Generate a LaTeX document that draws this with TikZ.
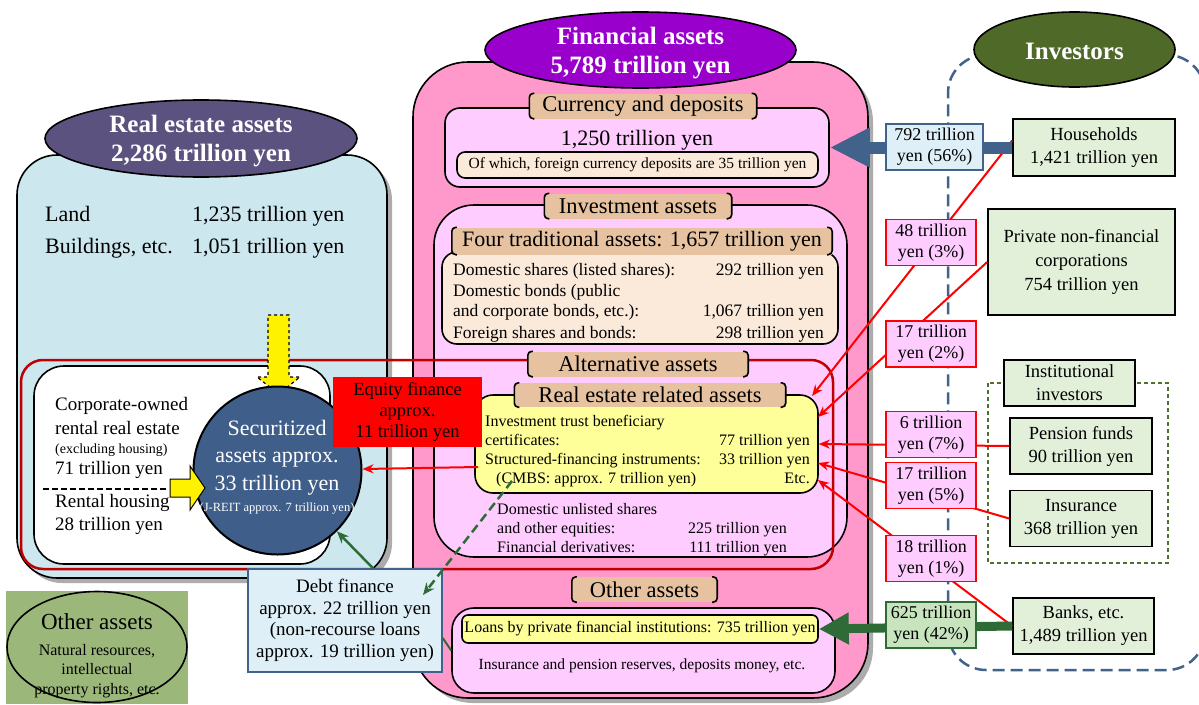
\documentclass[tikz,border=0pt]{standalone}
\usepackage{fontspec}
\setmainfont{Liberation Serif}
\usetikzlibrary{shapes.geometric,arrows.meta,shadows}

\definecolor{reblue}{RGB}{205,231,238}
\definecolor{retitle}{RGB}{92,82,128}
\definecolor{finpink}{RGB}{255,153,204}
\definecolor{fintitle}{RGB}{153,0,204}
\definecolor{panelpink}{RGB}{255,204,255}
\definecolor{tanlab}{RGB}{230,194,160}
\definecolor{beige}{RGB}{251,234,218}
\definecolor{softyellow}{RGB}{255,255,153}
\definecolor{darkred}{RGB}{192,0,0}
\definecolor{securblue}{RGB}{63,95,138}
\definecolor{steel}{RGB}{65,98,138}
\definecolor{invgreen}{RGB}{79,105,40}
\definecolor{palegreen}{RGB}{226,240,217}
\definecolor{flowgreen}{RGB}{46,107,54}
\definecolor{midgreen}{RGB}{200,228,190}
\definecolor{olive}{RGB}{155,183,122}
\definecolor{paleblue}{RGB}{222,239,247}
\definecolor{dashgreen}{RGB}{84,110,48}

\begin{document}
\begin{tikzpicture}[x=1pt,y=-1pt,
    box/.style={draw,line width=1.6pt,inner sep=0pt,align=center},
    panel/.style={box,fill=panelpink},
    seclab/.style={fill=tanlab,inner sep=0pt,minimum height=25pt,font=\fontsize{22.5}{26}\selectfont},
    headell/.style={ellipse,draw,line width=1.6pt,inner sep=0pt},
    headtx/.style={inner sep=0pt,text=white,align=center,font=\fontsize{25}{29}\selectfont\bfseries},
    invbox/.style={box,fill=palegreen,font=\fontsize{18.5}{23}\selectfont},
    flowbox/.style={box,draw=red,line width=1.8pt,fill=panelpink,minimum width=90pt,minimum height=46pt,font=\fontsize{18}{21}\selectfont},
    flow/.style={red,line width=2pt,-{Stealth[length=11pt,width=9pt]}},
    tx/.style={inner sep=0pt,yshift=-2pt,text height=0.7em,text depth=0.1em,font=\fontsize{16}{19}\selectfont},
    tradtx/.style={tx,font=\fontsize{17.5}{21}\selectfont},
    bigtx/.style={tx,font=\fontsize{22}{30}\selectfont},
    midtx/.style={tx,font=\fontsize{19}{22}\selectfont},
    boxshadow/.style={drop shadow={shadow xshift=5pt,shadow yshift=-5pt,fill=gray!65,opacity=1}}
]
\useasboundingbox[fill=white] (0,0) rectangle (1199,704);

% containers
\node[box,fill=reblue,rounded corners=40pt,minimum width=370pt,minimum height=423pt,boxshadow] (realbox) at (202,366.5) {};
\node[box,fill=finpink,rounded corners=55pt,minimum width=455pt,minimum height=636pt,boxshadow] (finbox) at (640.5,380) {};
\node[draw=steel,line width=2.5pt,dash pattern=on 12pt off 6pt,rounded corners=38pt,minimum width=257pt,minimum height=615pt,inner sep=0pt] (invframe) at (1076.5,362.5) {};

% currency and deposits
\node[panel,rounded corners=15pt,minimum width=384pt,minimum height=79pt] (curpanel) at (637,147.5) {};
\node[bigtx] (curval) at (637,140) {1,250 trillion yen};
\node[box,fill=beige,rounded corners=8pt,minimum width=361pt,minimum height=26pt,font=\fontsize{15.5}{18}\selectfont] (ofwhich) at (637.5,165) {Of which, foreign currency deposits are 35 trillion yen};

% investment assets
\node[panel,rounded corners=40pt,minimum width=413pt,minimum height=352pt] (invpanel) at (640.5,381) {};
\node[box,fill=beige,rounded corners=15pt,minimum width=396pt,minimum height=92pt] (tradbox) at (640,298) {};
\foreach \y/\l/\r [count=\i] in {270/{Domestic shares (listed shares):}/{292 trillion yen},
    291/{Domestic bonds (public}/{},
    311/{and corporate bonds, etc.):}/{1,067 trillion yen},
    333/{Foreign shares and bonds:}/{298 trillion yen}}{
  \node[tradtx,anchor=west] (tl\i) at (453,\y) {\l};
  \node[tradtx,anchor=east] (tr\i) at (824,\y) {\r};
}
\node[box,fill=softyellow,rounded corners=18pt,minimum width=343pt,minimum height=98pt] (reyel) at (646.5,444) {};
\node[tx,anchor=west] (ry1) at (485,421) {Investment trust beneficiary};
\node[tx,anchor=west] (ry2) at (485,440) {certificates:};
\node[tx,anchor=east] (ry2r) at (810,440) {77 trillion yen};
\node[tx,anchor=west] (ry3) at (485,459) {Structured-financing instruments:};
\node[tx,anchor=east] (ry3r) at (810,459) {33 trillion yen};
\node[tx,anchor=west] (ry4) at (496,478) {(CMBS: approx. 7 trillion yen)};
\node[tx,anchor=east] (ry4r) at (810,478) {Etc.};
\node[tx,anchor=west] (du1) at (497,509) {Domestic unlisted shares};
\node[tx,anchor=west] (du2) at (497,528) {and other equities:};
\node[tx,anchor=east] (du2r) at (787,528) {225 trillion yen};
\node[tx,anchor=west] (du3) at (497,547) {Financial derivatives:};
\node[tx,anchor=east] (du3r) at (787,547) {111 trillion yen};

% other assets
\node[panel,rounded corners=22pt,minimum width=383pt,minimum height=85pt] (othpanel) at (643.5,650.5) {};
\node[box,fill=softyellow,rounded corners=6pt,minimum width=356pt,minimum height=28pt,font=\fontsize{16}{19}\selectfont] (loans) at (640,629) {Loans by private financial institutions: 735 trillion yen};
\node[tx,font=\fontsize{15.5}{18}\selectfont] (othtx) at (642,664) {Insurance and pension reserves, deposits money, etc.};

% alternative assets frame
\draw[darkred,line width=2.5pt,rounded corners=22pt] (21,360) rectangle (833,569);

% real estate
\node[bigtx,anchor=west] (land) at (45,216) {Land};
\node[bigtx,anchor=west] (landv) at (192,216) {1,235 trillion yen};
\node[bigtx,anchor=west] (bld) at (45,248) {Buildings, etc.};
\node[bigtx,anchor=west] (bldv) at (192,248) {1,051 trillion yen};
\node[box,fill=white,rounded corners=30pt,minimum width=296pt,minimum height=198pt] (rentbox) at (182,465) {};
\draw[fill=yellow,line width=1.2pt,dashed] (268,315) -- (289,315) -- (289,377) -- (300,377) -- (278.5,394) -- (257,377) -- (268,377) -- cycle;
\node[circle,draw,line width=2pt,fill=securblue,minimum size=168pt,inner sep=0pt] (secur) at (277.5,470.5) {};
\node[inner sep=0pt,text=white,align=center,font=\fontsize{22}{27.5}\selectfont] (sectx) at (277,467) {Securitized\\assets approx.\\33 trillion yen\\[-6pt]{\fontsize{12.5}{15}\selectfont (J-REIT approx. 7 trillion yen)}};
\node[midtx,anchor=west] (rl1) at (55,405) {Corporate-owned};
\node[midtx,anchor=west] (rl2) at (55,429) {rental real estate};
\node[tx,anchor=west,font=\fontsize{14}{16}\selectfont] (rl3) at (55,448) {(excluding housing)};
\node[midtx,anchor=west] (rl4) at (55,469) {71 trillion yen};
\node[midtx,anchor=west] (rl5) at (55,502) {Rental housing};
\node[midtx,anchor=west] (rl6) at (55,525) {28 trillion yen};
\draw[line width=1.5pt,dash pattern=on 6pt off 3pt] (43,489) -- (167,489);
\draw[fill=yellow,line width=1pt] (170,479) -- (190,479) -- (190,466) -- (205,488) -- (190,510) -- (190,497) -- (170,497) -- cycle;

% equity and debt finance
\node[box,draw=none,fill=red,minimum width=149pt,minimum height=70pt,font=\fontsize{18.5}{21}\selectfont] (equity) at (407.5,411.5) {Equity finance\\approx.\\11 trillion yen};
\coordinate (eqsrc) at (478,467);
\draw[flow] (eqsrc) -- (secur);
\node[box,fill=paleblue,draw=steel,line width=1.5pt,minimum width=194pt,minimum height=103pt,font=\fontsize{19}{21.7}\selectfont] (debt) at (345,620.5) {Debt finance\\approx. 22 trillion yen\\(non-recourse loans\\approx. 19 trillion yen)};
\draw[flowgreen,line width=2.5pt,-{Stealth[length=12pt,width=10pt]}] ([xshift=28pt]debt.north) -- (secur);
\coordinate (cmbs) at (512,481);
\coordinate (cmbstip) at (423,595);
\draw[flowgreen,line width=2.5pt,dash pattern=on 9pt off 5pt,-{Stealth[length=12pt,width=10pt]}] (cmbs) -- (cmbstip);
\draw[flowgreen,line width=2pt] ([yshift=-17.5pt]debt.east) -- (othpanel.west);

% other non-financial assets
\node[fill=olive,minimum width=182pt,minimum height=113pt,inner sep=0pt] (othbg) at (97,647.5) {};
\node[ellipse,draw,line width=1.6pt,minimum width=180pt,minimum height=111pt,inner sep=0pt] (othell) at (97,647) {};
\node[inner sep=0pt,align=center,font=\fontsize{23}{26}\selectfont] (othtitle) at (97,622) {Other assets};
\node[inner sep=0pt,align=center,font=\fontsize{16}{19.5}\selectfont] (othdesc) at (97,671) {Natural resources,\\intellectual\\property rights, etc.};

% section labels
\node[seclab,minimum width=227pt] (curlab) at (643,106) {Currency and deposits};
\node[seclab,minimum width=187pt] (invlab) at (638,206) {Investment assets};
\node[seclab,minimum width=380pt,minimum height=27pt,font=\fontsize{22}{26}\selectfont] (fourlab) at (642,241) {Four traditional assets: 1,657 trillion yen};
\node[seclab,minimum width=220pt] (altlab) at (638,364) {Alternative assets};
\node[seclab,minimum width=271pt,minimum height=24pt] (relab) at (650,395) {Real estate related assets};
\node[seclab,minimum width=145pt] (othlab) at (644.5,589.5) {Other assets};
\foreach \n in {curlab,invlab,fourlab,altlab,relab,othlab}{
  \draw[line width=1.6pt,rounded corners=4pt] ([xshift=5pt]\n.north west) -- (\n.north west) -- (\n.south west) -- ([xshift=5pt]\n.south west);
  \draw[line width=1.6pt,rounded corners=4pt] ([xshift=-5pt]\n.north east) -- (\n.north east) -- (\n.south east) -- ([xshift=-5pt]\n.south east);
}

% investors
\draw[dashgreen,line width=1.5pt,dash pattern=on 4pt off 3pt] (988,383) rectangle (1168,563);
\node[invbox,minimum width=162pt,minimum height=57pt] (hh) at (1094,147.5) {Households\\1,421 trillion yen};
\node[invbox,minimum width=187pt,minimum height=106pt,font=\fontsize{18.5}{24}\selectfont] (priv) at (1081.5,262) {Private non-financial\\corporations\\754 trillion yen};
\node[invbox,minimum width=131pt,minimum height=46pt] (inst) at (1069.5,383) {Institutional\\investors};
\node[invbox,minimum width=142pt,minimum height=56pt] (pens) at (1081,446) {Pension funds\\90 trillion yen};
\node[invbox,minimum width=142pt,minimum height=56pt] (insu) at (1081,518.5) {Insurance\\368 trillion yen};
\node[invbox,minimum width=141pt,minimum height=56pt] (banks) at (1083.5,626) {Banks, etc.\\1,489 trillion yen};

% flows
\coordinate (t1) at (812,396);
\coordinate (t2) at (818,417);
\coordinate (t4) at (818,463);
\coordinate (t5) at (818,480);
\draw[flow] ([yshift=7pt]hh.west) -- (t1);
\draw[flow] (priv.west) -- (t2);
\draw[flow] (pens.west) -- (reyel.east);
\draw[flow] (insu.west) -- (t4);
\draw[flow] (banks.west) -- (t5);
\draw[steel,line width=12pt,-{Triangle[length=40pt,width=37pt]}] (hh.west) -- (curpanel.east);
\draw[flowgreen,line width=9pt,-{Triangle[length=30pt,width=30pt]}] (banks.west) -- (loans.east);
\node[flowbox,draw=steel,fill=paleblue,minimum width=97pt] (f792) at (934.5,147) {792 trillion\\yen (56\%)};
\node[flowbox] (f48) at (931,242.5) {48 trillion\\yen (3\%)};
\node[flowbox] (f17a) at (931,344) {17 trillion\\yen (2\%)};
\node[flowbox] (f6) at (931,434.5) {6 trillion\\yen (7\%)};
\node[flowbox] (f17b) at (931,485.5) {17 trillion\\yen (5\%)};
\node[flowbox] (f18) at (931,558.5) {18 trillion\\yen (1\%)};
\node[flowbox,draw=flowgreen,fill=midgreen] (f625) at (931,625) {625 trillion\\yen (42\%)};

% titles
\node[headell,fill=retitle,minimum width=312pt,minimum height=77pt] (retitlenode) at (201,138.5) {};
\node[headtx] (retitletx) at (201,141.5) {Real estate assets\\2,286 trillion yen};
\node[headell,fill=fintitle,minimum width=311pt,minimum height=76pt] (fintitlenode) at (640.5,50) {};
\node[headtx] (fintitletx) at (640.5,53.5) {Financial assets\\5,789 trillion yen};
\node[headell,fill=invgreen,minimum width=201pt,minimum height=75pt] (invtitle) at (1074.5,49.5) {};
\node[headtx] (invtitletx) at (1074.5,51) {Investors};
\end{tikzpicture}
\end{document}
